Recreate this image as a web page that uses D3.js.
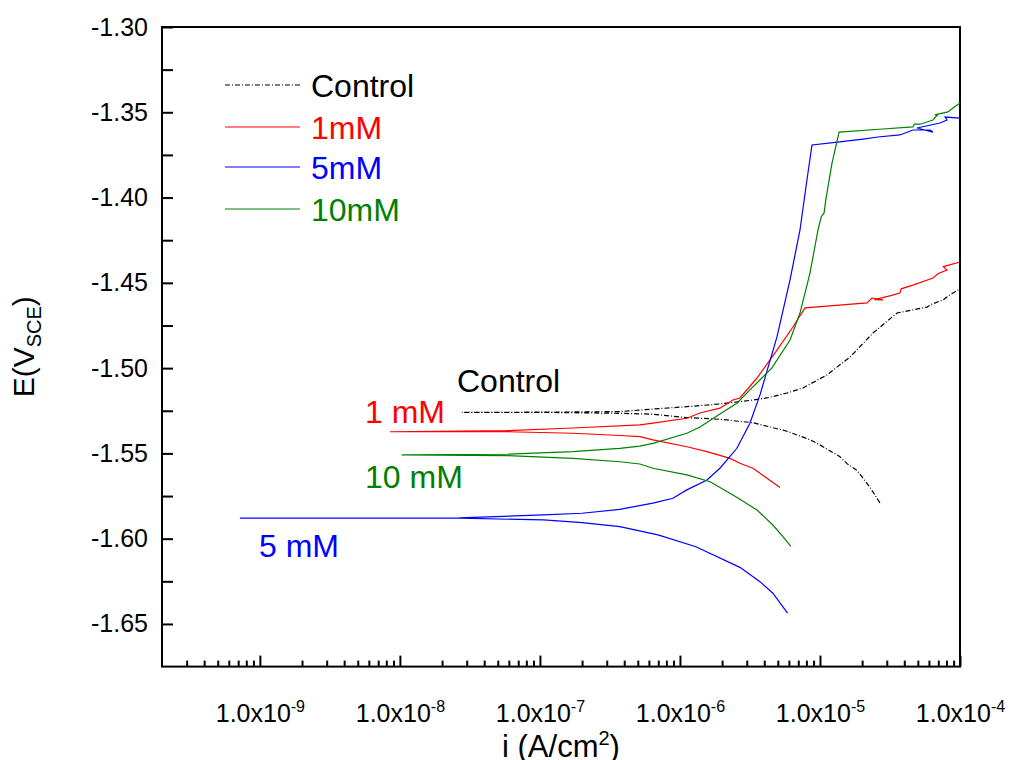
<!DOCTYPE html>
<html>
<head>
<meta charset="utf-8">
<title>Tafel plot</title>
<script src="https://cdn.jsdelivr.net/npm/d3@7"></script>
<style>
    body { margin: 0; background: #fff; }
    svg { font-family: "Liberation Sans", Arial, sans-serif; }
    .frame { fill: none; stroke: #000; stroke-width: 2px; }
    .axis path { display: none; }
    .axis line { stroke: #000; stroke-width: 2px; }
    .axis text { font-size: 25px; fill: #000; }
    .curve { fill: none; stroke-width: 1.2px; }
</style>
</head>
<body>
<script>
// current density (A/cm2) and potential (V vs SCE), cathodic end -> Ecorr -> anodic end
var controlI = [2.68e-5, 2.28e-5, 1.84e-5, 1.56e-5, 1.39e-5, 1.0e-5, 8.49e-6, 5.81e-6, 3.32e-6, 1.93e-6, 1.12e-6, 6.41e-7, 3.72e-7, 1.18e-7, 2.77e-8,
                1.18e-7, 3.72e-7, 6.41e-7, 1.12e-6, 1.93e-6, 3.32e-6, 4.18e-6, 5.81e-6, 7.57e-6, 1.12e-5, 1.64e-5, 2.39e-5, 3.55e-5, 5.81e-5, 6.3e-5, 7.57e-5, 8.3e-5, 9.68e-5, 1.0e-4];
var controlE = [-1.579, -1.570, -1.560, -1.556, -1.552, -1.545, -1.542, -1.537, -1.532, -1.530, -1.529, -1.527, -1.5265, -1.526, -1.526,
                -1.5258, -1.5255, -1.524, -1.5226, -1.521, -1.5187, -1.5175, -1.5146, -1.5116, -1.504, -1.4935, -1.4794, -1.4677, -1.4642, -1.4625, -1.460, -1.4575, -1.4542, -1.453];

var mM1I = [5.18e-6, 3.73e-6, 3.32e-6, 2.68e-6, 2.28e-6, 1.56e-6, 1.12e-6, 6.41e-7, 5.18e-7, 3.72e-7, 1.72e-7, 5.81e-8, 8.49e-9,
            5.81e-8, 1.72e-7, 5.18e-7, 6.41e-7, 1.12e-6, 1.39e-6, 1.93e-6, 2.39e-6, 2.68e-6, 3.55e-6, 4.93e-6, 6.41e-6, 7.82e-6,
            2.17e-5, 2.35e-5, 2.82e-5, 2.45e-5, 3.2e-5, 3.72e-5, 3.8e-5, 4.61e-5, 6.41e-5, 7.0e-5, 8.07e-5, 7.6e-5, 1.0e-4];
var mM1E = [-1.570, -1.5617, -1.5587, -1.5558, -1.5529, -1.549, -1.5461, -1.5421, -1.5402, -1.5395, -1.5382, -1.5373, -1.5373,
            -1.5367, -1.5351, -1.5333, -1.5323, -1.5294, -1.5263, -1.5235, -1.5187, -1.5175, -1.5058, -1.4894, -1.4759, -1.4647,
            -1.4618, -1.4589, -1.4600, -1.4598, -1.4575, -1.456, -1.4535, -1.4513, -1.4472, -1.4445, -1.4425, -1.4405, -1.4378];

var mM5I = [5.87e-6, 4.61e-6, 3.73e-6, 2.68e-6, 1.3e-6, 6.97e-7, 3.72e-7, 2.0e-7, 1.06e-7, 2.66e-8, 7.2e-10,
            2.66e-8, 1.06e-7, 2.0e-7, 3.72e-7, 6.41e-7, 8.91e-7, 1.12e-6, 1.56e-6, 1.93e-6, 2.55e-6, 3.16e-6, 3.73e-6, 4.93e-6, 6.11e-6, 7.2e-6, 8.07e-6, 8.77e-6,
            1.39e-5, 1.58e-5, 2.03e-5, 2.59e-5, 3.72e-5, 4.61e-5, 6.11e-5, 6.41e-5, 4.93e-5, 7.2e-5, 8.07e-5, 7.82e-5, 1.0e-4];
var mM5E = [-1.6437, -1.632, -1.6252, -1.6168, -1.6047, -1.5978, -1.5929, -1.5906, -1.589, -1.588, -1.588,
            -1.5878, -1.5861, -1.5851, -1.5828, -1.5792, -1.5763, -1.5714, -1.5656, -1.5587, -1.547, -1.5323, -1.5157, -1.4817, -1.4483, -1.419, -1.3897, -1.3692,
            -1.3674, -1.3668, -1.3657, -1.3645, -1.3633, -1.3604, -1.3604, -1.3616, -1.3592, -1.3563, -1.3545, -1.3528, -1.3534];

var mM10I = [6.18e-6, 5.44e-6, 4.61e-6, 3.55e-6, 2.68e-6, 2.39e-6, 1.64e-6, 1.12e-6, 6.41e-7, 5.18e-7, 3.72e-7, 1.72e-7, 5.81e-8, 1.03e-8,
             5.81e-8, 1.72e-7, 3.72e-7, 5.18e-7, 6.41e-7, 1.12e-6, 1.39e-6, 1.93e-6, 2.55e-6, 3.16e-6, 4.54e-6, 6.11e-6, 7.2e-6, 8.49e-6, 9.68e-6,
             1.02e-5, 1.07e-5, 1.1e-5, 1.22e-5, 1.37e-5, 2.82e-5, 4.61e-5, 4.72e-5, 5.2e-5, 6.41e-5, 6.9e-5, 6.6e-5, 8.2e-5, 9.1e-5, 1.0e-4];
var mM10E = [-1.6043, -1.5988, -1.592, -1.5832, -1.5769, -1.5744, -1.5666, -1.5626, -1.5587, -1.5562, -1.5549, -1.5529, -1.5513, -1.5509,
             -1.5505, -1.549, -1.547, -1.5457, -1.5441, -1.5382, -1.5345, -1.5269, -1.5206, -1.5128, -1.4999, -1.4835, -1.4677, -1.4442, -1.419,
             -1.4114, -1.409, -1.4014, -1.3797, -1.3616, -1.3598, -1.3586, -1.3569, -1.3570, -1.3545, -1.3516, -1.3515, -1.3498, -1.3469, -1.3446];

var seriesNames = ["Control", "1mM", "5mM", "10mM"];
var seriesColors = ["#000000", "#ff0000", "#0000ff", "#008000"];
var annotations = ["Control", "1 mM", "5 mM", "10 mM"];

var xMajorTicks = [1e-9, 1e-8, 1e-7, 1e-6, 1e-5, 1e-4];
var xTickExp = ["-9", "-8", "-7", "-6", "-5", "-4"];
var yTicks = d3.range(-1.65, -1.29, 0.025).map(function (d) { return +d.toFixed(3); });

var width = 1010, height = 760;
var margin = {left: 162, top: 27, right: 50, bottom: 93.4};

var x = d3.scaleLog()
    .domain([2e-10, 1e-4])
    .range([margin.left, width - margin.right]);
var y = d3.scaleLinear()
    .domain([-1.675, -1.30])
    .range([height - margin.bottom, margin.top]);

var svg = d3.select("body").append("svg")
    .attr("width", width)
    .attr("height", height);

// minor x ticks (2..9 per decade)
var xMinor = [];
for (var e = -10; e < -4; e++) {
    for (var m = 2; m <= 9; m++) {
        var v = m * Math.pow(10, e);
        if (v > 2e-10 && v < 1e-4) xMinor.push(v);
    }
}

svg.append("g")
    .attr("class", "axis")
    .attr("transform", "translate(0," + y.range()[0] + ")")
    .call(d3.axisBottom(x).tickValues(xMinor).tickSize(-6).tickFormat(""));

var xAxis = svg.append("g")
    .attr("class", "axis")
    .attr("transform", "translate(0," + y.range()[0] + ")")
    .call(d3.axisBottom(x).tickValues(xMajorTicks).tickSize(-11).tickPadding(38).tickFormat(""));

xAxis.selectAll(".tick text").each(function (d, i) {
    var t = d3.select(this);
    t.append("tspan").text("1.0x10");
    t.append("tspan").attr("dy", -10).style("font-size", "16px").text(xTickExp[i]);
});

svg.append("g")
    .attr("class", "axis")
    .attr("transform", "translate(" + x.range()[0] + ",0)")
    .call(d3.axisLeft(y).tickValues(yTicks).tickSize(-11).tickPadding(14)
        .tickFormat(function (d, i) { return i % 2 === 0 ? d.toFixed(2) : ""; }));

// frame
svg.append("rect")
    .attr("class", "frame")
    .attr("x", x.range()[0])
    .attr("y", y.range()[1])
    .attr("width", x.range()[1] - x.range()[0])
    .attr("height", y.range()[0] - y.range()[1]);

var line = d3.line()
    .x(function (d) { return x(d[0]); })
    .y(function (d) { return y(d[1]); });

var curves = [d3.zip(controlI, controlE), d3.zip(mM1I, mM1E), d3.zip(mM5I, mM5E), d3.zip(mM10I, mM10E)];

curves.forEach(function (c, i) {
    svg.append("path")
        .datum(c)
        .attr("class", "curve")
        .attr("stroke", seriesColors[i])
        .attr("stroke-dasharray", i === 0 ? "5,2,1,2" : null)
        .attr("d", line);
});

// legend
var legendY = [85, 127, 167, 209];
var legend = svg.append("g");
seriesNames.forEach(function (name, i) {
    legend.append("line")
        .attr("x1", 225).attr("x2", 300)
        .attr("y1", legendY[i]).attr("y2", legendY[i])
        .attr("stroke", seriesColors[i])
        .attr("stroke-width", 1.2)
        .attr("stroke-dasharray", i === 0 ? "5,2,1,2" : null);
    legend.append("text")
        .attr("x", 311).attr("y", legendY[i] + 12)
        .attr("fill", seriesColors[i])
        .style("font-size", "32px")
        .text(name);
});

// labels next to curves
var annX = [457, 365, 259, 365], annY = [392, 423, 557, 488];
annotations.forEach(function (a, i) {
    svg.append("text")
        .attr("x", annX[i]).attr("y", annY[i])
        .attr("fill", seriesColors[i])
        .style("font-size", "32px")
        .text(a);
});

// axis titles
var xt = svg.append("text")
    .attr("x", (x.range()[0] + x.range()[1]) / 2)
    .attr("y", 757)
    .attr("text-anchor", "middle")
    .style("font-size", "31px");
xt.append("tspan").text("i (A/cm");
xt.append("tspan").attr("dy", -12).style("font-size", "20px").text("2");
xt.append("tspan").attr("dy", 12).text(")");

var yt = svg.append("text")
    .attr("transform", "translate(34," + (y.range()[0] + y.range()[1]) / 2 + ") rotate(-90)")
    .attr("text-anchor", "middle")
    .style("font-size", "30px");
yt.append("tspan").text("E(V");
yt.append("tspan").attr("dy", 7).style("font-size", "20px").text("SCE");
yt.append("tspan").attr("dy", -7).text(")");
</script>
</body>
</html>
